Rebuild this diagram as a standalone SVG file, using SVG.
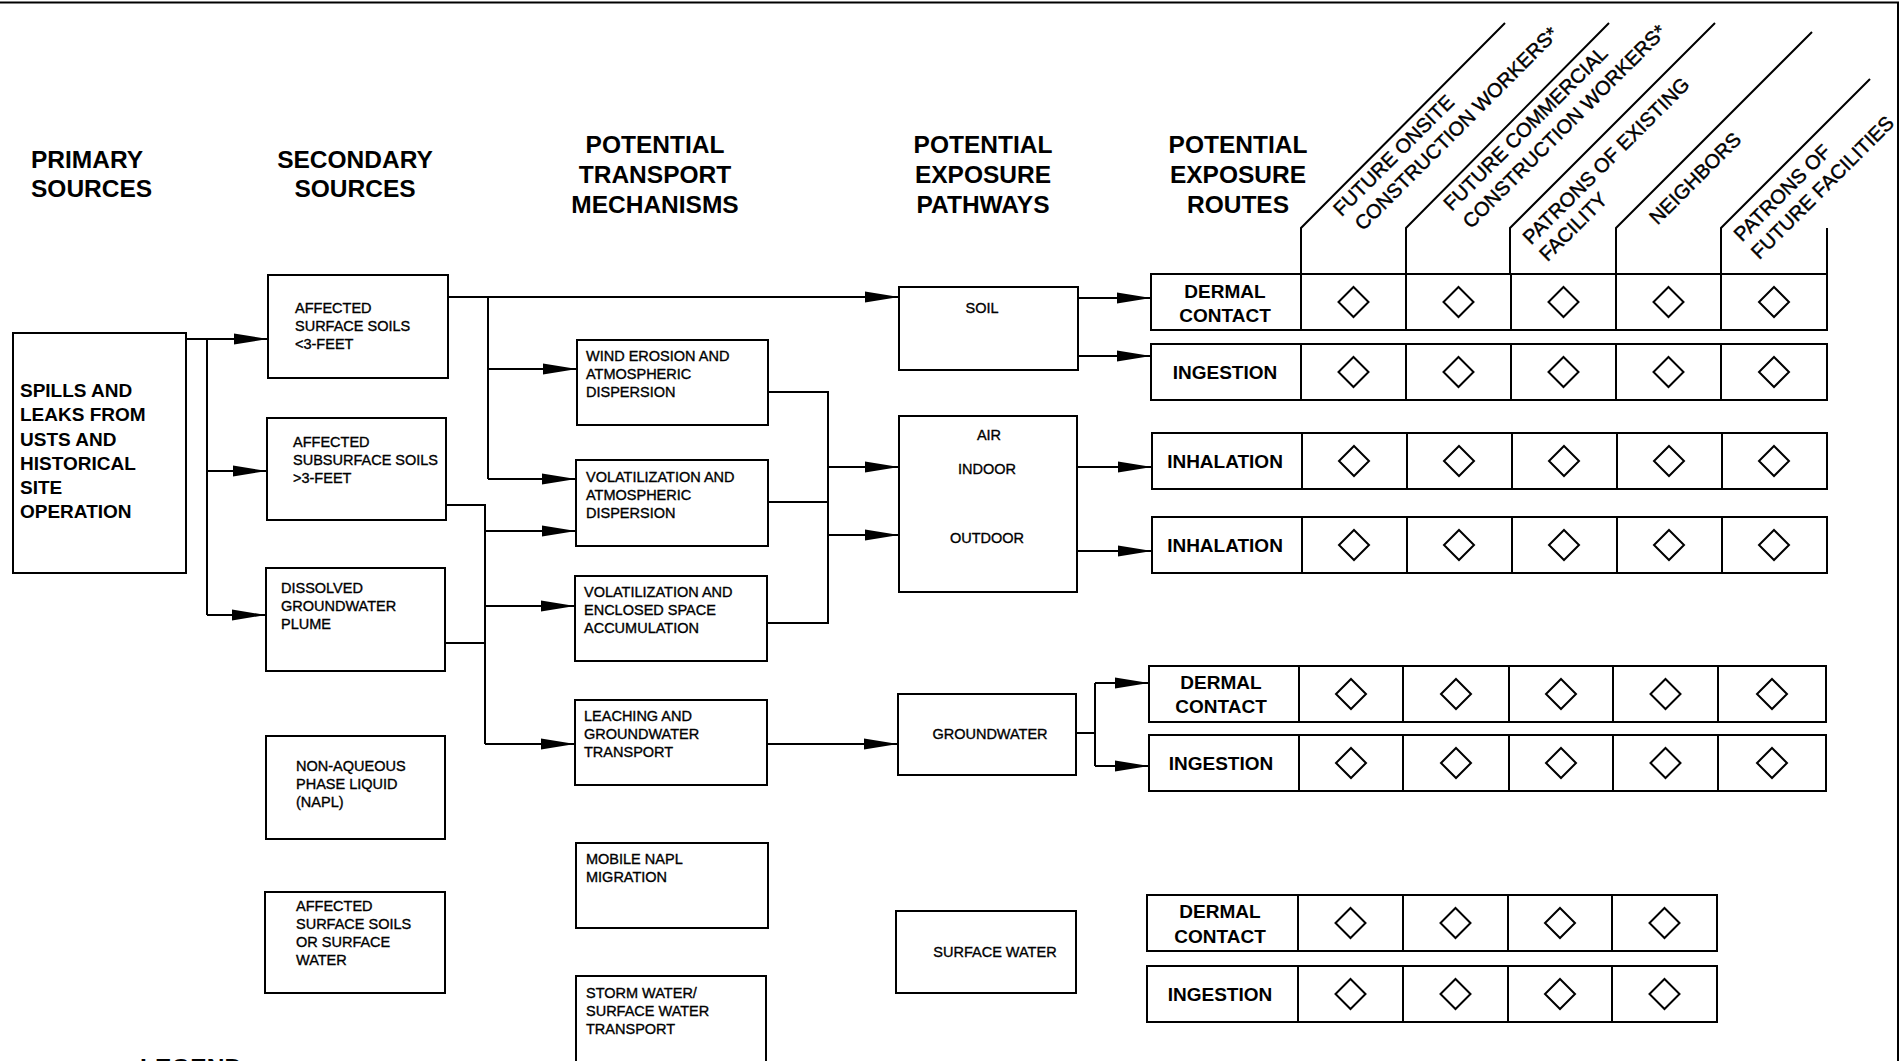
<svg xmlns="http://www.w3.org/2000/svg" xmlns:xlink="http://www.w3.org/1999/xlink" width="1902" height="1061" viewBox="0 0 1902 1061">
<style>
text{font-family:"Liberation Sans",Arial,Helvetica,sans-serif;fill:#000}
.hdr{font-size:24.5px;font-weight:bold}
.big{font-size:19px;font-weight:bold}
.sm{font-size:14.5px;stroke:#000;stroke-width:0.35}
.rot{font-size:20px;stroke:#000;stroke-width:0.45}
.c{text-anchor:middle}
.box{fill:#fff;stroke:#000;stroke-width:2}
.ln{fill:none;stroke:#000;stroke-width:2}
.cn{fill:none;stroke:#000;stroke-width:2}
.ar{marker-end:url(#ah)}
.dia{fill:none;stroke:#000;stroke-width:2;stroke-linejoin:miter}
</style>
<defs>
<marker id="ah" markerUnits="userSpaceOnUse" markerWidth="36" markerHeight="14" refX="34" refY="6" orient="auto">
<path d="M0,0.5 L34,6 L0,11.5 Z" fill="#000"/>
</marker>
<path id="dm" class="dia" d="M0,-15 L15,0 L0,15 L-15,0 Z"/>
</defs>
<rect width="1902" height="1061" fill="#fff"/>
<path class="ln" d="M0,2.5 H1899 M1898,2 V1061" stroke-width="2.5"/>

<g id="headers">
<text class="hdr" x="31" y="168">PRIMARY</text>
<text class="hdr" x="31" y="197">SOURCES</text>
<text class="hdr c" x="355" y="168">SECONDARY</text>
<text class="hdr c" x="355" y="197">SOURCES</text>
<text class="hdr c" x="655" y="153">POTENTIAL</text>
<text class="hdr c" x="655" y="183">TRANSPORT</text>
<text class="hdr c" x="655" y="213">MECHANISMS</text>
<text class="hdr c" x="983" y="153">POTENTIAL</text>
<text class="hdr c" x="983" y="183">EXPOSURE</text>
<text class="hdr c" x="983" y="213">PATHWAYS</text>
<text class="hdr c" x="1238" y="153">POTENTIAL</text>
<text class="hdr c" x="1238" y="183">EXPOSURE</text>
<text class="hdr c" x="1238" y="213">ROUTES</text>
</g>

<g id="receptors">
<path class="ln" d="M1301,274 V228 L1505,23 M1406,274 V228 L1609,23 M1510,274 V228 L1715,23 M1616,274 V228 L1812,32 M1721,274 V228 L1870,79 M1827,274 V228"/>
<text class="rot" transform="translate(1341.4,217.2) rotate(-45)">FUTURE ONSITE</text>
<text class="rot" transform="translate(1363,231.6) rotate(-45)">CONSTRUCTION WORKERS*</text>
<text class="rot" transform="translate(1451.8,211.8) rotate(-45)">FUTURE COMMERCIAL</text>
<text class="rot" transform="translate(1471.1,229.5) rotate(-45)">CONSTRUCTION WORKERS*</text>
<text class="rot" transform="translate(1531.1,245.6) rotate(-45)">PATRONS OF EXISTING</text>
<text class="rot" transform="translate(1547.5,262.2) rotate(-45)">FACILITY</text>
<text class="rot" transform="translate(1657.6,225.6) rotate(-45)">NEIGHBORS</text>
<text class="rot" transform="translate(1742,242.6) rotate(-45)">PATRONS OF</text>
<text class="rot" transform="translate(1759.3,260.2) rotate(-45)">FUTURE FACILITIES</text>
</g>

<g id="primary">
<rect class="box" x="13" y="333" width="173" height="240"/>
<text class="big" x="20" y="397">SPILLS AND</text>
<text class="big" x="20" y="421">LEAKS FROM</text>
<text class="big" x="20" y="446">USTS AND</text>
<text class="big" x="20" y="470">HISTORICAL</text>
<text class="big" x="20" y="494">SITE</text>
<text class="big" x="20" y="518">OPERATION</text>
</g>

<g id="sec-surface-soils">
<rect class="box" x="268" y="275" width="180" height="103"/>
<text class="sm" x="295" y="313">AFFECTED</text>
<text class="sm" x="295" y="331">SURFACE SOILS</text>
<text class="sm" x="295" y="349">&lt;3-FEET</text>
</g>
<g id="sec-subsurface-soils">
<rect class="box" x="267" y="418" width="179" height="102"/>
<text class="sm" x="293" y="447">AFFECTED</text>
<text class="sm" x="293" y="465">SUBSURFACE SOILS</text>
<text class="sm" x="293" y="483">&gt;3-FEET</text>
</g>
<g id="sec-dissolved">
<rect class="box" x="266" y="568" width="179" height="103"/>
<text class="sm" x="281" y="593">DISSOLVED</text>
<text class="sm" x="281" y="611">GROUNDWATER</text>
<text class="sm" x="281" y="629">PLUME</text>
</g>
<g id="sec-napl">
<rect class="box" x="266" y="736" width="179" height="103"/>
<text class="sm" x="296" y="771">NON-AQUEOUS</text>
<text class="sm" x="296" y="789">PHASE LIQUID</text>
<text class="sm" x="296" y="807">(NAPL)</text>
</g>
<g id="sec-surface-water">
<rect class="box" x="265" y="892" width="180" height="101"/>
<text class="sm" x="296" y="911">AFFECTED</text>
<text class="sm" x="296" y="929">SURFACE SOILS</text>
<text class="sm" x="296" y="947">OR SURFACE</text>
<text class="sm" x="296" y="965">WATER</text>
</g>

<g id="tr-wind">
<rect class="box" x="577" y="340" width="191" height="85"/>
<text class="sm" x="586" y="361">WIND EROSION AND</text>
<text class="sm" x="586" y="379">ATMOSPHERIC</text>
<text class="sm" x="586" y="397">DISPERSION</text>
</g>
<g id="tr-volatilization-atm">
<rect class="box" x="576" y="460" width="192" height="86"/>
<text class="sm" x="586" y="482">VOLATILIZATION AND</text>
<text class="sm" x="586" y="500">ATMOSPHERIC</text>
<text class="sm" x="586" y="518">DISPERSION</text>
</g>
<g id="tr-volatilization-enc">
<rect class="box" x="575" y="576" width="192" height="85"/>
<text class="sm" x="584" y="597">VOLATILIZATION AND</text>
<text class="sm" x="584" y="615">ENCLOSED SPACE</text>
<text class="sm" x="584" y="633">ACCUMULATION</text>
</g>
<g id="tr-leaching">
<rect class="box" x="575" y="700" width="192" height="85"/>
<text class="sm" x="584" y="721">LEACHING AND</text>
<text class="sm" x="584" y="739">GROUNDWATER</text>
<text class="sm" x="584" y="757">TRANSPORT</text>
</g>
<g id="tr-napl">
<rect class="box" x="576" y="843" width="192" height="85"/>
<text class="sm" x="586" y="864">MOBILE NAPL</text>
<text class="sm" x="586" y="882">MIGRATION</text>
</g>
<g id="tr-storm">
<rect class="box" x="576" y="976" width="190" height="100"/>
<text class="sm" x="586" y="998">STORM WATER/</text>
<text class="sm" x="586" y="1016">SURFACE WATER</text>
<text class="sm" x="586" y="1034">TRANSPORT</text>
</g>

<g id="pw-soil">
<rect class="box" x="899" y="287" width="179" height="83"/>
<text class="sm c" x="982" y="313">SOIL</text>
</g>
<g id="pw-air">
<rect class="box" x="899" y="416" width="178" height="176"/>
<text class="sm c" x="989" y="440">AIR</text>
<text class="sm c" x="987" y="474">INDOOR</text>
<text class="sm c" x="987" y="543">OUTDOOR</text>
</g>
<g id="pw-groundwater">
<rect class="box" x="898" y="694" width="178" height="81"/>
<text class="sm c" x="990" y="739">GROUNDWATER</text>
</g>
<g id="pw-surface-water">
<rect class="box" x="896" y="911" width="180" height="82"/>
<text class="sm c" x="995" y="957">SURFACE WATER</text>
</g>

<g id="route-soil-dermal">
<rect class="box" x="1151" y="274" width="676" height="56"/>
<path class="ln" d="M1301,274 V330 M1406,274 V330 M1511,274 V330 M1616,274 V330 M1721,274 V330"/>
<text class="big c" x="1225" y="298">DERMAL</text>
<text class="big c" x="1225" y="322">CONTACT</text>
<use xlink:href="#dm" x="1353.5" y="302"/><use xlink:href="#dm" x="1458.5" y="302"/><use xlink:href="#dm" x="1563.5" y="302"/><use xlink:href="#dm" x="1668.5" y="302"/><use xlink:href="#dm" x="1774" y="302"/>
</g>
<g id="route-soil-ingestion">
<rect class="box" x="1151" y="344" width="676" height="56"/>
<path class="ln" d="M1301,344 V400 M1406,344 V400 M1511,344 V400 M1616,344 V400 M1721,344 V400"/>
<text class="big c" x="1225" y="379">INGESTION</text>
<use xlink:href="#dm" x="1353.5" y="372"/><use xlink:href="#dm" x="1458.5" y="372"/><use xlink:href="#dm" x="1563.5" y="372"/><use xlink:href="#dm" x="1668.5" y="372"/><use xlink:href="#dm" x="1774" y="372"/>
</g>
<g id="route-air-indoor">
<rect class="box" x="1152" y="433" width="675" height="56"/>
<path class="ln" d="M1302,433 V489 M1407,433 V489 M1512,433 V489 M1617,433 V489 M1722,433 V489"/>
<text class="big c" x="1225" y="468">INHALATION</text>
<use xlink:href="#dm" x="1354" y="461"/><use xlink:href="#dm" x="1459" y="461"/><use xlink:href="#dm" x="1564" y="461"/><use xlink:href="#dm" x="1669" y="461"/><use xlink:href="#dm" x="1774" y="461"/>
</g>
<g id="route-air-outdoor">
<rect class="box" x="1152" y="517" width="675" height="56"/>
<path class="ln" d="M1302,517 V573 M1407,517 V573 M1512,517 V573 M1617,517 V573 M1722,517 V573"/>
<text class="big c" x="1225" y="552">INHALATION</text>
<use xlink:href="#dm" x="1354" y="545"/><use xlink:href="#dm" x="1459" y="545"/><use xlink:href="#dm" x="1564" y="545"/><use xlink:href="#dm" x="1669" y="545"/><use xlink:href="#dm" x="1774" y="545"/>
</g>
<g id="route-gw-dermal">
<rect class="box" x="1149" y="666" width="677" height="56"/>
<path class="ln" d="M1299,666 V722 M1403,666 V722 M1509,666 V722 M1613,666 V722 M1718,666 V722"/>
<text class="big c" x="1221" y="689">DERMAL</text>
<text class="big c" x="1221" y="713">CONTACT</text>
<use xlink:href="#dm" x="1351" y="694"/><use xlink:href="#dm" x="1456" y="694"/><use xlink:href="#dm" x="1561" y="694"/><use xlink:href="#dm" x="1665.5" y="694"/><use xlink:href="#dm" x="1772" y="694"/>
</g>
<g id="route-gw-ingestion">
<rect class="box" x="1149" y="735" width="677" height="56"/>
<path class="ln" d="M1299,735 V791 M1403,735 V791 M1509,735 V791 M1613,735 V791 M1718,735 V791"/>
<text class="big c" x="1221" y="770">INGESTION</text>
<use xlink:href="#dm" x="1351" y="763"/><use xlink:href="#dm" x="1456" y="763"/><use xlink:href="#dm" x="1561" y="763"/><use xlink:href="#dm" x="1665.5" y="763"/><use xlink:href="#dm" x="1772" y="763"/>
</g>
<g id="route-sw-dermal">
<rect class="box" x="1147" y="895" width="570" height="56"/>
<path class="ln" d="M1298,895 V951 M1403,895 V951 M1508,895 V951 M1612,895 V951"/>
<text class="big c" x="1220" y="918">DERMAL</text>
<text class="big c" x="1220" y="943">CONTACT</text>
<use xlink:href="#dm" x="1350.5" y="923"/><use xlink:href="#dm" x="1455.5" y="923"/><use xlink:href="#dm" x="1560" y="923"/><use xlink:href="#dm" x="1664.5" y="923"/>
</g>
<g id="route-sw-ingestion">
<rect class="box" x="1147" y="966" width="570" height="56"/>
<path class="ln" d="M1298,966 V1022 M1403,966 V1022 M1508,966 V1022 M1612,966 V1022"/>
<text class="big c" x="1220" y="1001">INGESTION</text>
<use xlink:href="#dm" x="1350.5" y="994"/><use xlink:href="#dm" x="1455.5" y="994"/><use xlink:href="#dm" x="1560" y="994"/><use xlink:href="#dm" x="1664.5" y="994"/>
</g>

<g id="connectors">
<path class="cn ar" d="M186,339 H268"/>
<path class="cn" d="M207,339 V615"/>
<path class="cn ar" d="M207,471 H267"/>
<path class="cn ar" d="M207,615 H266"/>
<path class="cn ar" d="M448,297 H899"/>
<path class="cn" d="M488,297 V479"/>
<path class="cn ar" d="M488,369 H577"/>
<path class="cn ar" d="M488,479 H576"/>
<path class="cn" d="M446,505 H485 V744"/>
<path class="cn ar" d="M485,531 H576"/>
<path class="cn ar" d="M485,606 H575"/>
<path class="cn ar" d="M485,744 H575"/>
<path class="cn" d="M445,643 H485"/>
<path class="cn" d="M768,392 H828 V623 H767"/>
<path class="cn" d="M768,502 H828"/>
<path class="cn ar" d="M828,467 H899"/>
<path class="cn ar" d="M828,535 H899"/>
<path class="cn ar" d="M767,744 H898"/>
<path class="cn ar" d="M1078,298 H1151"/>
<path class="cn ar" d="M1078,356 H1151"/>
<path class="cn ar" d="M1077,467 H1152"/>
<path class="cn ar" d="M1077,551 H1152"/>
<path class="cn" d="M1076,733 H1095"/>
<path class="cn" d="M1095,683 V766"/>
<path class="cn ar" d="M1095,683 H1149"/>
<path class="cn ar" d="M1095,766 H1149"/>
</g>

<g id="legend">
<text class="hdr" x="140" y="1076">LEGEND</text>
</g>
</svg>
